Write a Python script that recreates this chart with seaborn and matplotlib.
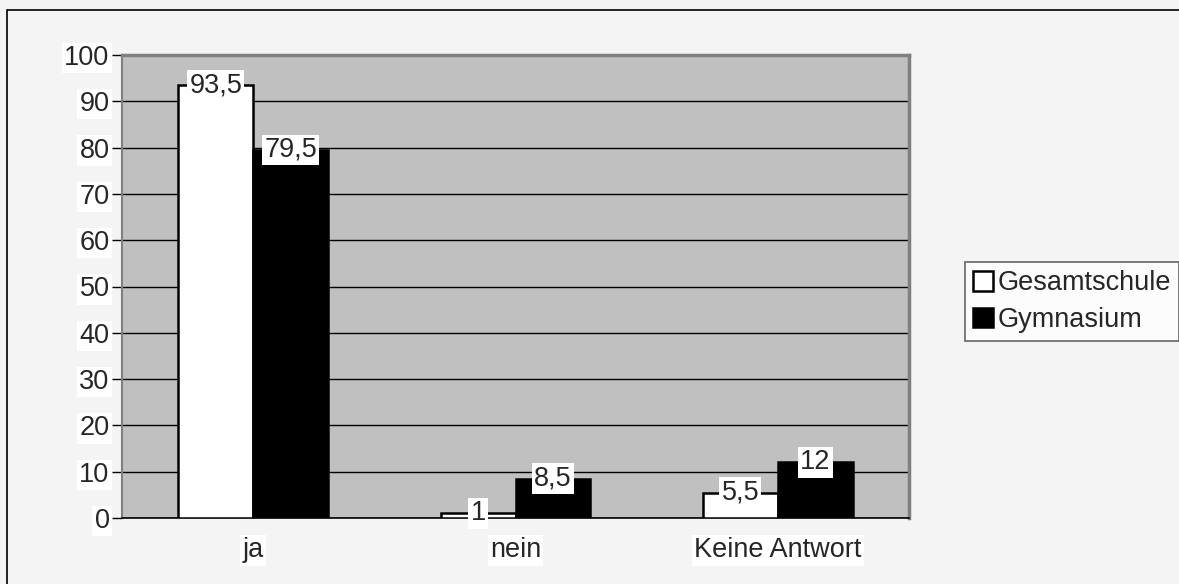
import numpy as np
import pandas as pd
import matplotlib.pyplot as plt
from matplotlib.patches import Rectangle
import seaborn as sns

# Data
categories = ['ja', 'nein', 'Keine Antwort']
gesamtschule = [93.5, 1, 5.5]
gymnasium = [79.5, 8.5, 12]
series_names = ['Gesamtschule', 'Gymnasium']
y_ticks = list(range(0, 101, 10))

df = pd.DataFrame({
    'Kategorie': categories * 2,
    'Wert': gesamtschule + gymnasium,
    'Schule': [series_names[0]] * 3 + [series_names[1]] * 3,
})

sns.set_theme(style='white')
plt.rcParams['font.family'] = ['Liberation Sans', 'DejaVu Sans']
FS = 19.5

fig = plt.figure(figsize=(11.79, 5.84), dpi=100)
fig.patch.set_facecolor('#f4f4f4')
W, H = 1179, 584

# outer chart frame (only left/top edges visible in the crop)
fig.patches.append(Rectangle((7 / W, -0.1), 1.2, 1 - 10 / H + 0.1,
                             transform=fig.transFigure, fill=False,
                             edgecolor='black', linewidth=1.2, zorder=0))

ax = fig.add_axes([122 / W, 1 - 518 / H, (909 - 122) / W, (518 - 55) / H])
ax.set_facecolor('#c0c0c0')

sns.barplot(data=df, x='Kategorie', y='Wert', hue='Schule', order=categories,
            hue_order=series_names, palette=['white', 'black'], width=0.57,
            edgecolor='black', linewidth=1.8, saturation=1, ax=ax, zorder=3)

ax.set_xlim(-0.5, 2.5)
ax.set_ylim(0, 100)
ax.set_yticks(y_ticks)
ax.set_yticklabels([str(t) for t in y_ticks], fontsize=FS)
for lab in ax.get_yticklabels():
    lab.set_bbox(dict(facecolor='white', edgecolor='none', pad=1.5))
ax.set_xticks(range(len(categories)))
ax.set_xticklabels(categories, fontsize=FS)
for lab in ax.get_xticklabels():
    lab.set_bbox(dict(facecolor='white', edgecolor='none', pad=1.5))
ax.set_xticks([-0.5, 0.5, 1.5, 2.5], minor=True)
ax.tick_params(axis='x', which='major', length=0, pad=14)
ax.tick_params(axis='x', which='minor', length=6, width=1, color='black', direction='out')
ax.tick_params(axis='y', length=7, width=1, color='black', direction='out', pad=2, left=True)
ax.set_xlabel('')
ax.set_ylabel('')

ax.yaxis.grid(True, color='black', linewidth=1)
ax.xaxis.grid(False)
ax.set_axisbelow(True)

for side in ['top', 'right']:
    ax.spines[side].set_color('#808080')
    ax.spines[side].set_linewidth(2.5)
ax.spines['left'].set_color('#808080')
ax.spines['left'].set_linewidth(1.5)
ax.spines['bottom'].set_color('black')
ax.spines['bottom'].set_linewidth(1.2)

# value labels centred on bar tops with white boxes
for cont in ax.containers:
    for rect in cont:
        h = rect.get_height()
        txt = ('%g' % h).replace('.', ',')
        ax.text(rect.get_x() + rect.get_width() / 2, h, txt, ha='center',
                va='center', fontsize=FS, zorder=5,
                bbox=dict(facecolor='white', edgecolor='none', pad=1.5))

handles, labels = ax.get_legend_handles_labels()
ax.legend_.remove()
leg = fig.legend(handles, labels, loc='upper left',
                 bbox_to_anchor=(965 / W, 1 - 262 / H), fontsize=FS,
                 frameon=True, fancybox=False, handlelength=0.75,
                 handleheight=0.75, handletextpad=0.15, borderpad=0.3,
                 labelspacing=0.4, borderaxespad=0)
leg.get_frame().set_edgecolor('#404040')
leg.get_frame().set_linewidth(1.2)

fig.savefig('out.png', dpi=100, facecolor=fig.get_facecolor())
